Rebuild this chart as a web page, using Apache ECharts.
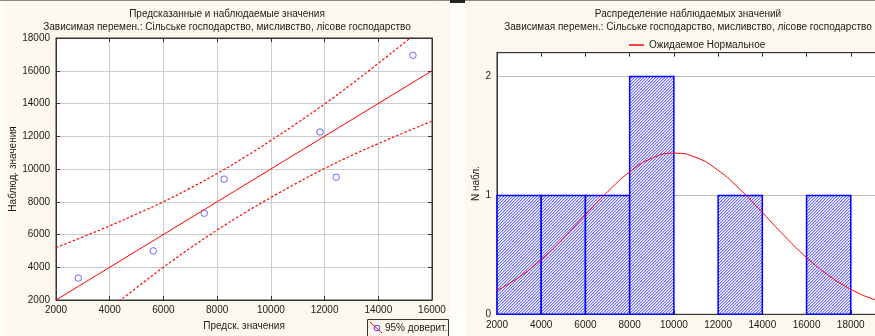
<!DOCTYPE html>
<html>
<head>
<meta charset="utf-8">
<script src="https://cdn.jsdelivr.net/npm/echarts@6/dist/echarts.min.js"></script>
<style>
html,body{margin:0;padding:0;overflow:hidden;background:#fcf8ed;}
#c{width:920px;height:336px;}
</style>
</head>
<body>
<div id="c"></div>
<script>
// ---- Left chart: predicted vs observed ----
const leftTitle = 'Предсказанные и наблюдаемые значения';
const subTitle = 'Зависимая перемен.: Сільське господарство, мисливство, лісове господарство';
const predX = [2830, 5620, 7520, 8260, 11830, 12430, 15290];
const obsY  = [3340, 5000, 7300, 9380, 12260, 9500, 16940];
const fitX = [2000, 16000];
const fitY = [2000, 16000];
const bandX     = [2000, 3000, 4000, 5000, 6000, 7000, 8000, 9000, 10000, 11000, 12000, 13000, 14000, 15000, 16000];
const bandUpper = [5200, 5850, 6530, 7250, 8000, 8830, 9730, 10700, 11740, 12830, 13970, 15180, 16450, 17750, 19080];
const bandLower = [-1200, 150, 1470, 2750, 4000, 5170, 6270, 7300, 8260, 9170, 10030, 10820, 11550, 12250, 12920];
const leftXTicks = [2000, 16000, 2000]; // min, max, step
const leftYTicks = [2000, 18000, 2000];

// ---- Right chart: histogram ----
const rightTitle = 'Распределение наблюдаемых значений';
const binStart = [2000, 4000, 6000, 8000, 10000, 12000, 14000, 16000];
const binEnd   = [4000, 6000, 8000, 10000, 12000, 14000, 16000, 18000];
const binCount = [1, 1, 1, 2, 0, 1, 0, 1];
const normX = [2000, 3000, 4000, 5000, 6000, 7000, 8000, 9000, 10000, 11000, 12000, 13000, 14000, 15000, 16000, 17000, 18000, 19000, 20000];
const normY = [0.20, 0.313, 0.461, 0.640, 0.838, 1.030, 1.197, 1.312, 1.355, 1.319, 1.211, 1.049, 0.856, 0.659, 0.478, 0.327, 0.211, 0.128, 0.073];
const rightXTicks = [2000, 20000, 2000];
const rightYTicks = [0, 2.2, 1];

const FONT = '"Liberation Sans", Arial, sans-serif';
const TXT = '#1a1a1a';

// hatch pattern (fine diagonal)
const pc = document.createElement('canvas');
pc.width = 3; pc.height = 3;
const pctx = pc.getContext('2d');
pctx.fillStyle = '#ffffff'; pctx.fillRect(0,0,3,3);
for (let x=0;x<3;x++) for (let y=0;y<3;y++) {
  const k = (x+y)%3;
  if (k===0) { pctx.fillStyle = '#6a6aff'; pctx.fillRect(x,y,1,1); }
  else if (k===1) { pctx.fillStyle = '#c4c4ff'; pctx.fillRect(x,y,1,1); }
}
const hatch = {image: pc, repeat: 'repeat'};

const chart = echarts.init(document.getElementById('c'));

const labelStyle = {fontFamily: FONT, fontSize: 10, color: TXT};
const plain = v => String(v);

function mkX(grid, t, opts) {
  return Object.assign({
    type: 'value', gridIndex: grid, min: t[0], max: t[1], interval: t[2],
    axisLine: {show: true, lineStyle: {color: '#333', width: 1}},
    axisTick: {show: true, inside: true, length: 4, lineStyle: {color: '#333'}},
    axisLabel: Object.assign({margin: 5, formatter: plain}, labelStyle),
    splitLine: {show: false}
  }, opts || {});
}

const option = {
  backgroundColor: '#fcf8ed',
  animation: false,
  textStyle: {fontFamily: FONT},
  grid: [
    {left: 56, top: 38, width: 376, height: 263, show: true, backgroundColor: '#ffffff', borderColor: '#333', borderWidth: 1},
    {left: 497, top: 52.7, width: 398, height: 261.6, show: true, backgroundColor: '#ffffff', borderColor: '#333', borderWidth: 1}
  ],
  xAxis: [
    mkX(0, leftXTicks, {
      name: 'Предск. значения', nameLocation: 'middle', nameGap: 21,
      nameTextStyle: labelStyle,
      splitLine: {show: true, lineStyle: {color: '#cccccc', width: 1}}
    }),
    mkX(0, leftXTicks, {position: 'top', axisLabel: {show: false}}),
    mkX(1, rightXTicks, {axisLabel: Object.assign({margin: 6, formatter: plain}, labelStyle)}),
    mkX(1, rightXTicks, {position: 'top', axisLabel: {show: false}})
  ],
  yAxis: [
    mkX(0, leftYTicks, {
      name: 'Наблюд. значения', nameLocation: 'middle', nameGap: 35,
      nameTextStyle: labelStyle,
      axisLabel: Object.assign({margin: 6, formatter: plain}, labelStyle),
      splitLine: {show: true, lineStyle: {color: '#cccccc', width: 1}}
    }),
    mkX(0, leftYTicks, {position: 'right', axisLabel: {show: false}}),
    mkX(1, rightYTicks, {
      name: 'N набл.', nameLocation: 'middle', nameGap: 16,
      nameTextStyle: labelStyle,
      axisTick: {show: false},
      axisLabel: Object.assign({margin: 6, showMaxLabel: false, formatter: plain}, labelStyle),
      splitLine: {show: true, lineStyle: {color: '#bdbdbd', width: 1}}
    })
  ],
  legend: {
    data: [{name: 'Ожидаемое Нормальное', icon: 'rect'}],
    left: 624, top: 35, itemWidth: 15, itemHeight: 1.5, itemGap: 5,
    textStyle: labelStyle, selectedMode: false
  },
  series: [
    {type: 'line', xAxisIndex: 0, yAxisIndex: 0, data: bandX.map((x,i)=>[x, bandUpper[i]]),
     smooth: true, showSymbol: false, symbol: 'none', clip: true,
     lineStyle: {color: '#ff0000', width: 1.2, type: [2.5, 2]}},
    {type: 'line', xAxisIndex: 0, yAxisIndex: 0, data: bandX.map((x,i)=>[x, bandLower[i]]),
     smooth: true, showSymbol: false, symbol: 'none', clip: true,
     lineStyle: {color: '#ff0000', width: 1.2, type: [2.5, 2]}},
    {type: 'line', xAxisIndex: 0, yAxisIndex: 0, data: fitX.map((x,i)=>[x, fitY[i]]),
     showSymbol: false, symbol: 'none',
     lineStyle: {color: '#ff0000', width: 1}},
    {type: 'scatter', xAxisIndex: 0, yAxisIndex: 0, data: predX.map((x,i)=>[x, obsY[i]]),
     symbol: 'circle', symbolSize: 6.5,
     itemStyle: {color: 'rgba(0,0,0,0)', borderColor: '#4646ff', borderWidth: 1}},
    {type: 'custom', xAxisIndex: 2, yAxisIndex: 2,
     data: binStart.map((s,i)=>[s, binEnd[i], binCount[i]]),
     renderItem: function(params, api) {
       const c = api.value(2);
       if (!c) return null;
       const p0 = api.coord([api.value(0), c]);
       const p1 = api.coord([api.value(1), 0]);
       return {type: 'rect', shape: {x: p0[0], y: p0[1], width: p1[0]-p0[0], height: p1[1]-p0[1]},
               style: {fill: hatch, stroke: '#0000ff', lineWidth: 1.5}};
     }},
    {type: 'line', name: 'Ожидаемое Нормальное', xAxisIndex: 2, yAxisIndex: 2,
     data: normX.map((x,i)=>[x, normY[i]]), smooth: true, showSymbol: false, symbol: 'none',
     itemStyle: {color: '#ff0000'},
     lineStyle: {color: '#ff0000', width: 1}, z: 5}
  ],
  graphic: [
    {type: 'rect', shape: {x: 450, y: 0, width: 15, height: 336}, style: {fill: '#fefdf9'}, z: -10, silent: true},
    {type: 'rect', shape: {x: 0, y: 0, width: 4, height: 336}, style: {fill: '#fefdf9'}, z: -10, silent: true},
    {type: 'line', shape: {x1: 0, y1: 0.5, x2: 875, y2: 0.5}, style: {stroke: '#8a8a8a', lineWidth: 1}, silent: true},
    {type: 'rect', shape: {x: 450, y: 0, width: 15, height: 3}, style: {fill: '#222'}, silent: true},
    {type: 'text', x: 227, y: 14, style: {text: leftTitle, font: '10px ' + FONT, fill: TXT, textAlign: 'center', textVerticalAlign: 'middle'}},
    {type: 'text', x: 227, y: 27, style: {text: subTitle, font: '10px ' + FONT, fill: TXT, textAlign: 'center', textVerticalAlign: 'middle'}},
    {type: 'text', x: 688, y: 14, style: {text: rightTitle, font: '10px ' + FONT, fill: TXT, textAlign: 'center', textVerticalAlign: 'middle'}},
    {type: 'text', x: 688, y: 27, style: {text: subTitle, font: '10px ' + FONT, fill: TXT, textAlign: 'center', textVerticalAlign: 'middle'}},
    {type: 'group', left: 367, top: 319, children: [
      {type: 'rect', shape: {x: 0.5, y: 0.5, width: 81, height: 17}, style: {fill: '#fcf8ed', stroke: '#333', lineWidth: 1}},
      {type: 'line', shape: {x1: 3, y1: 3, x2: 15, y2: 14}, style: {stroke: '#ff0000', lineWidth: 1}},
      {type: 'circle', shape: {cx: 10, cy: 9, r: 2.8}, style: {fill: 'none', stroke: '#4646ff', lineWidth: 1}},
      {type: 'text', x: 18, y: 9, style: {text: '95% доверит.', font: '10px ' + FONT, fill: TXT, textVerticalAlign: 'middle'}}
    ]}
  ]
};
chart.setOption(option);
</script>
</body>
</html>
